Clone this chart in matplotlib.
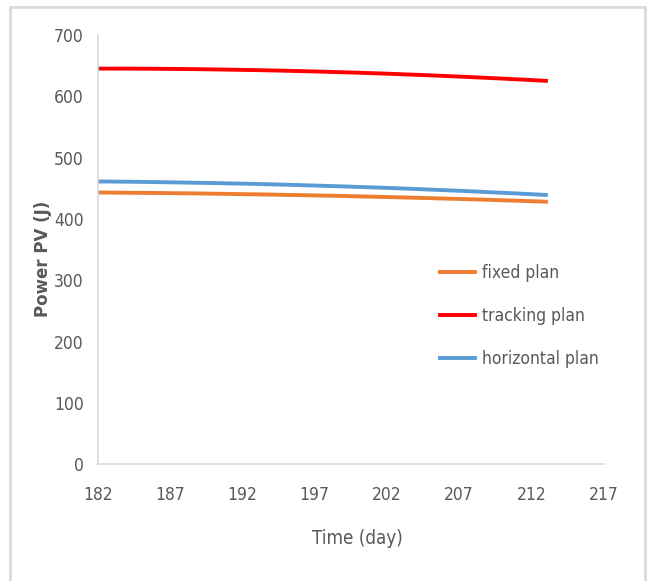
import matplotlib.pyplot as plt
from matplotlib.patches import Rectangle

plt.rcParams['font.family'] = ['DejaVu Sans']
plt.rcParams['font.stretch'] = 'condensed'

days = list(range(182, 214))
fixed_plan = [443.0, 442.8, 442.6, 442.4, 442.2, 441.9, 441.7, 441.4, 441.0, 440.7,
              440.3, 440.0, 439.6, 439.1, 438.7, 438.2, 437.8, 437.3, 436.7, 436.2,
              435.6, 435.0, 434.4, 433.8, 433.1, 432.5, 431.8, 431.1, 430.3, 429.6,
              428.8, 428.0]
tracking_plan = [645.0, 645.0, 645.0, 644.8, 644.7, 644.5, 644.3, 644.0, 643.7, 643.3,
                 642.9, 642.5, 642.0, 641.5, 640.9, 640.3, 639.7, 639.0, 638.3, 637.5,
                 636.7, 635.8, 634.9, 634.0, 633.0, 632.0, 630.9, 629.8, 628.7, 627.5,
                 626.3, 625.0]
horizontal_plan = [461.0, 460.8, 460.6, 460.3, 460.0, 459.6, 459.2, 458.8, 458.4, 457.9,
                   457.4, 456.9, 456.3, 455.7, 455.0, 454.3, 453.6, 452.9, 452.1, 451.3,
                   450.5, 449.6, 448.7, 447.7, 446.8, 445.8, 444.7, 443.6, 442.5, 441.4,
                   440.2, 439.0]

x_ticks = [182, 187, 192, 197, 202, 207, 212, 217]
y_ticks = [0, 100, 200, 300, 400, 500, 600, 700]

fig = plt.figure(figsize=(6.52, 5.81), dpi=100)
ax = fig.add_axes([0.150, 0.201, 0.776, 0.739])

ax.plot(days, fixed_plan, color='#ED7D31', lw=2.8, label='fixed plan')
ax.plot(days, tracking_plan, color='#FF0000', lw=2.8, label='tracking plan')
ax.plot(days, horizontal_plan, color='#5B9BD5', lw=2.8, label='horizontal plan')

ax.set_xlim(182, 217)
ax.set_ylim(0, 700)
ax.set_xticks(x_ticks)
ax.set_yticks(y_ticks)
ax.tick_params(length=0, labelsize=12.5, labelcolor='#595959')
ax.tick_params(axis='x', pad=16)
ax.tick_params(axis='y', pad=10)
for s in ['top', 'right']:
    ax.spines[s].set_visible(False)
for s in ['left', 'bottom']:
    ax.spines[s].set_color('#D9D9D9')
    ax.spines[s].set_linewidth(1.2)

ax.set_xlabel('Time (day)', fontsize=13.5, color='#595959')
ax.xaxis.set_label_coords(0.514, -0.15)
ax.set_ylabel('Power PV (J)', fontsize=12, color='#595959', fontweight='bold',
              fontstretch='normal')
ax.yaxis.set_label_coords(-0.09, 0.478)

ax.legend(loc='center left', bbox_to_anchor=(0.676, 0.345), frameon=False,
          fontsize=12.5, labelcolor='#595959', handlelength=2.0,
          labelspacing=1.45, handletextpad=0.45, borderpad=0, borderaxespad=0)

fig.patches.append(Rectangle((10 / 652, -0.02), 635 / 652, 1.008, transform=fig.transFigure,
                             fill=False, edgecolor='#D9D9D9', lw=2))

fig.savefig('out.png', dpi=100)
